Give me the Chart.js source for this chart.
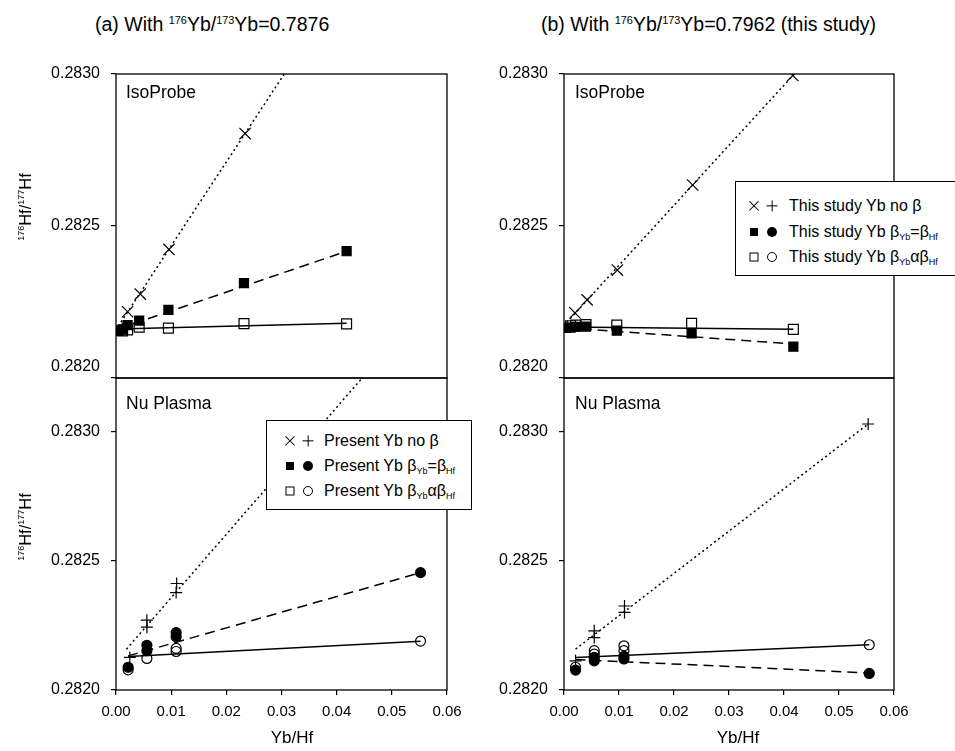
<!DOCTYPE html>
<html><head><meta charset="utf-8">
<script src="https://cdn.jsdelivr.net/npm/chart.js@4"></script>
<style>
html,body{margin:0;padding:0;background:#fff;}
body{width:955px;height:751px;position:relative;overflow:hidden;font-family:"Liberation Sans",Arial,sans-serif;color:#000;}
canvas{position:absolute;}
.t{position:absolute;white-space:nowrap;line-height:1;}
.t sup{font-size:0.56em;position:relative;top:-0.62em;vertical-align:baseline;}
.ytitle{position:absolute;white-space:nowrap;line-height:1;font-size:16.5px;transform:translate(-50%,-50%) rotate(-90deg);}
.ytitle sup{font-size:9px;position:relative;top:-0.75em;vertical-align:baseline;}
.xtitle{position:absolute;white-space:nowrap;line-height:1;font-size:17px;transform:translate(-50%,-50%);}
.lab{position:absolute;white-space:nowrap;line-height:1;font-size:17.5px;transform:translateY(-50%);}
.leg{position:absolute;background:#fff;border:1px solid #000;box-sizing:border-box;}
.sym{position:absolute;transform:translate(-50%,-50%);}
.x,.p{width:14px;height:14px;}
.x::before,.x::after,.p::before,.p::after{content:'';position:absolute;left:50%;top:50%;height:1.3px;background:#000;}
.x::before{width:13px;transform:translate(-50%,-50%) rotate(45deg);}
.x::after{width:13px;transform:translate(-50%,-50%) rotate(-45deg);}
.p::before{width:11px;transform:translate(-50%,-50%);}
.p::after{width:11px;transform:translate(-50%,-50%) rotate(90deg);}
.fs{width:8px;height:8px;background:#000;}
.fc{width:10px;height:10px;background:#000;border-radius:50%;}
.os{width:9px;height:9px;border:1px solid #000;box-sizing:border-box;background:#fff;}
.oc{width:10px;height:10px;border:1px solid #000;box-sizing:border-box;border-radius:50%;}
.lt{position:absolute;white-space:nowrap;font-size:16px;line-height:1;transform:translateY(-50%);}
.lt sub{font-size:9px;position:relative;top:0.35em;vertical-align:baseline;}
</style></head>
<body>
<canvas id="cTL" width="470" height="330" style="left:0;top:60px"></canvas>
<canvas id="cTR" width="470" height="330" style="left:448px;top:60px"></canvas>
<canvas id="cBL" width="470" height="375" style="left:0;top:366px"></canvas>
<canvas id="cBR" width="470" height="375" style="left:448px;top:366px"></canvas>

<div class="t" style="left:95px;top:15px;font-size:19.5px;">(a) With <sup>176</sup>Yb/<sup>173</sup>Yb=0.7876</div>
<div class="t" style="left:541px;top:15px;font-size:19.5px;">(b) With <sup>176</sup>Yb/<sup>173</sup>Yb=0.7962 (this study)</div>

<div class="ytitle" style="left:25px;top:207px;"><sup>176</sup>Hf/<sup>177</sup>Hf</div>
<div class="ytitle" style="left:25px;top:527px;"><sup>176</sup>Hf/<sup>177</sup>Hf</div>

<div class="xtitle" style="left:292px;top:737px;">Yb/Hf</div>
<div class="xtitle" style="left:738px;top:737px;">Yb/Hf</div>

<div class="lab" style="left:126px;top:93px;">IsoProbe</div>
<div class="lab" style="left:575px;top:93px;">IsoProbe</div>
<div class="lab" style="left:126px;top:404px;">Nu Plasma</div>
<div class="lab" style="left:575px;top:404px;">Nu Plasma</div>

<div class="leg" style="left:266px;top:420px;width:206px;height:90px;">
  <div class="sym x" style="left:23px;top:20px;"></div>
  <div class="sym p" style="left:41px;top:20px;"></div>
  <div class="lt" style="left:57px;top:20px;">Present Yb no β</div>
  <div class="sym fs" style="left:23px;top:45px;"></div>
  <div class="sym fc" style="left:41px;top:45px;"></div>
  <div class="lt" style="left:57px;top:45px;">Present Yb β<sub>Yb</sub>=β<sub>Hf</sub></div>
  <div class="sym os" style="left:23px;top:70px;"></div>
  <div class="sym oc" style="left:41px;top:70px;"></div>
  <div class="lt" style="left:57px;top:70px;">Present Yb β<sub>Yb</sub>αβ<sub>Hf</sub></div>
</div>

<div class="leg" style="left:735px;top:181px;width:240px;height:95px;">
  <div class="sym x" style="left:18px;top:24px;"></div>
  <div class="sym p" style="left:36px;top:24px;"></div>
  <div class="lt" style="left:53px;top:24px;">This study Yb no β</div>
  <div class="sym fs" style="left:18px;top:50px;"></div>
  <div class="sym fc" style="left:36px;top:50px;"></div>
  <div class="lt" style="left:53px;top:50px;">This study Yb β<sub>Yb</sub>=β<sub>Hf</sub></div>
  <div class="sym os" style="left:18px;top:75px;"></div>
  <div class="sym oc" style="left:36px;top:75px;"></div>
  <div class="lt" style="left:53px;top:75px;">This study Yb β<sub>Yb</sub>αβ<sub>Hf</sub></div>
</div>

<script>
// ---- tick definitions ----
const X_TICKS = [0, 0.01, 0.02, 0.03, 0.04, 0.05, 0.06];
const X_TICK_LABELS = ['0.00', '0.01', '0.02', '0.03', '0.04', '0.05', '0.06'];
const Y_TICKS = [0.2820, 0.2825, 0.2830];
const Y_TICK_LABELS = ['0.2820', '0.2825', '0.2830'];

// ---- (a) IsoProbe ----
const A_ISO_NOBETA_X = [0.0004, 0.0021, 0.0044, 0.0096, 0.0234];
const A_ISO_NOBETA_Y = [0.282165, 0.282218, 0.282276, 0.282423, 0.282804];
const A_ISO_EQ_X = [0.0003, 0.0012, 0.0021, 0.0042, 0.0095, 0.0232, 0.0418];
const A_ISO_EQ_Y = [0.282155, 0.282160, 0.282174, 0.282189, 0.282224, 0.282312, 0.282417];
const A_ISO_ALPHA_X = [0.0012, 0.0021, 0.0042, 0.0095, 0.0232, 0.0418];
const A_ISO_ALPHA_Y = [0.282155, 0.282158, 0.282167, 0.282164, 0.282179, 0.282178];
const A_ISO_NOBETA_FIT_X = [0.0004, 0.035];
const A_ISO_NOBETA_FIT_Y = [0.282170, 0.283124];
const A_ISO_EQ_FIT_X = [0.0003, 0.0418];
const A_ISO_EQ_FIT_Y = [0.282161, 0.282417];
const A_ISO_ALPHA_FIT_X = [0.0003, 0.0418];
const A_ISO_ALPHA_FIT_Y = [0.282161, 0.282180];

// ---- (a) Nu Plasma ----
const A_NU_NOBETA_X = [0.0025, 0.0056, 0.0056, 0.0110, 0.0109];
const A_NU_NOBETA_Y = [0.282126, 0.282270, 0.282243, 0.282412, 0.282377];
const A_NU_EQ_X = [0.0022, 0.0056, 0.0056, 0.0109, 0.0109, 0.0552];
const A_NU_EQ_Y = [0.282088, 0.282173, 0.282152, 0.282222, 0.282206, 0.282454];
const A_NU_ALPHA_X = [0.0022, 0.0056, 0.0109, 0.0109, 0.0552];
const A_NU_ALPHA_Y = [0.282078, 0.282122, 0.282161, 0.282149, 0.282189];
const A_NU_NOBETA_FIT_X = [0.0019, 0.050];
const A_NU_NOBETA_FIT_Y = [0.282158, 0.283339];
const A_NU_EQ_FIT_X = [0.0022, 0.0552];
const A_NU_EQ_FIT_Y = [0.282132, 0.282454];
const A_NU_ALPHA_FIT_X = [0.0022, 0.0552];
const A_NU_ALPHA_FIT_Y = [0.282130, 0.282189];

// ---- (b) IsoProbe ----
const B_ISO_NOBETA_X = [0.0020, 0.0042, 0.0097, 0.0234, 0.0416];
const B_ISO_NOBETA_Y = [0.282214, 0.282257, 0.282355, 0.282635, 0.282995];
const B_ISO_EQ_X = [0.0003, 0.0012, 0.0021, 0.0040, 0.0096, 0.0232, 0.0417];
const B_ISO_EQ_Y = [0.282165, 0.282166, 0.282168, 0.282169, 0.282156, 0.282147, 0.282103];
const B_ISO_ALPHA_X = [0.0012, 0.0021, 0.0040, 0.0096, 0.0232, 0.0417];
const B_ISO_ALPHA_Y = [0.282172, 0.282174, 0.282176, 0.282174, 0.282180, 0.282160];
const B_ISO_NOBETA_FIT_X = [0.0005, 0.045];
const B_ISO_NOBETA_FIT_Y = [0.282183, 0.283062];
const B_ISO_EQ_FIT_X = [0.0003, 0.0417];
const B_ISO_EQ_FIT_Y = [0.282165, 0.282112];
const B_ISO_ALPHA_FIT_X = [0.0003, 0.0417];
const B_ISO_ALPHA_FIT_Y = [0.282168, 0.282160];

// ---- (b) Nu Plasma ----
const B_NU_NOBETA_X = [0.0021, 0.0055, 0.0055, 0.0110, 0.0110, 0.0553];
const B_NU_NOBETA_Y = [0.282113, 0.282229, 0.282203, 0.282325, 0.282300, 0.283029];
const B_NU_EQ_X = [0.0021, 0.0055, 0.0055, 0.0109, 0.0109, 0.0555];
const B_NU_EQ_Y = [0.282077, 0.282126, 0.282113, 0.282130, 0.282120, 0.282064];
const B_NU_ALPHA_X = [0.0021, 0.0055, 0.0055, 0.0109, 0.0109, 0.0555];
const B_NU_ALPHA_Y = [0.282088, 0.282152, 0.282139, 0.282171, 0.282152, 0.282175];
const B_NU_NOBETA_FIT_X = [0.0021, 0.0553];
const B_NU_NOBETA_FIT_Y = [0.282158, 0.283029];
const B_NU_EQ_FIT_X = [0.0021, 0.0555];
const B_NU_EQ_FIT_Y = [0.282118, 0.282066];
const B_NU_ALPHA_FIT_X = [0.0021, 0.0555];
const B_NU_ALPHA_FIT_Y = [0.282126, 0.282175];

const TOP_Y_MAX = 0.2830;
const BOTTOM_Y_MAX = 0.283207;

// ---- helpers ----
const FONT = '"Liberation Sans", Arial, sans-serif';
const pts = (xs, ys) => xs.map((x, i) => ({ x, y: ys[i] }));
function marker(style, filled, r, xs, ys) {
  return {
    data: pts(xs, ys), showLine: false, pointStyle: style, pointRadius: r,
    pointBorderColor: '#000', pointBackgroundColor: filled ? '#000' : 'rgba(255,255,255,0)',
    pointBorderWidth: 1.2
  };
}
function fit(dash, xs, ys) {
  return {
    data: pts(xs, ys), showLine: true, pointRadius: 0, borderColor: '#000',
    borderWidth: 1.5, borderDash: dash, fill: false
  };
}
const DOTTED = [2, 3], DASHED = [10, 6], SOLID = [];

const framePlugin = {
  id: 'frame',
  afterDatasetsDraw(chart) {
    const { ctx, chartArea: a } = chart;
    ctx.save();
    ctx.strokeStyle = '#000';
    ctx.lineWidth = 1.3;
    ctx.strokeRect(a.left, a.top, a.right - a.left, a.bottom - a.top);
    ctx.restore();
  }
};
const lowLabelPlugin = {
  id: 'lowLabel',
  afterDraw(chart) {
    const y = chart.scales.y, ctx = chart.ctx;
    ctx.save();
    ctx.font = '16px ' + FONT;
    ctx.fillStyle = '#000';
    ctx.textAlign = 'right';
    ctx.textBaseline = 'middle';
    ctx.fillText(Y_TICK_LABELS[0], y.right - 16, y.getPixelForValue(Y_TICKS[0]) - 11);
    ctx.restore();
  }
};

function makeChart(id, isTop, yMax, datasets) {
  const gridOpts = { drawOnChartArea: false, drawTicks: true, tickLength: 5, color: '#000', lineWidth: 1.2 };
  return new Chart(document.getElementById(id), {
    type: 'scatter',
    data: { datasets },
    options: {
      responsive: false, animation: false, devicePixelRatio: 1,
      layout: { padding: { left: 0, right: id.endsWith('R') ? 24 : 23, top: isTop ? 14 : 12, bottom: isTop ? 12 : 16 } },
      plugins: { legend: { display: false }, tooltip: { enabled: false } },
      scales: {
        x: {
          type: 'linear', min: 0, max: 0.06, display: !isTop,
          afterBuildTicks: s => { s.ticks = X_TICKS.map(v => ({ value: v })); },
          afterFit: s => {
            s.paddingLeft = 0; s.paddingRight = 0; s.paddingTop = 0; s.paddingBottom = 0;
            if (!isTop) { s.height = 35; }
          },
          ticks: { callback: (v, i) => X_TICK_LABELS[i], font: { family: FONT, size: 15 }, color: '#000', padding: 8, maxRotation: 0, autoSkip: false },
          grid: gridOpts, border: { display: false }
        },
        y: {
          type: 'linear', min: 0.2820, max: yMax,
          afterBuildTicks: s => { s.ticks = Y_TICKS.map(v => ({ value: v })); },
          afterFit: s => {
            s.width = 116;
            s.paddingLeft = 0; s.paddingRight = 0; s.paddingTop = 0; s.paddingBottom = 0;
          },
          ticks: { callback: (v, i) => (isTop && i === 0) ? '' : Y_TICK_LABELS[i], font: { family: FONT, size: 16 }, color: '#000', padding: 11, autoSkip: false },
          grid: gridOpts, border: { display: false }
        }
      }
    },
    plugins: isTop ? [framePlugin, lowLabelPlugin] : [framePlugin]
  });
}

// squares panels (IsoProbe)
makeChart('cTL', true, TOP_Y_MAX, [
  marker('crossRot', false, 8, A_ISO_NOBETA_X, A_ISO_NOBETA_Y),
  marker('rect', true, 6.4, A_ISO_EQ_X, A_ISO_EQ_Y),
  marker('rect', false, 7, A_ISO_ALPHA_X, A_ISO_ALPHA_Y),
  fit(DOTTED, A_ISO_NOBETA_FIT_X, A_ISO_NOBETA_FIT_Y),
  fit(DASHED, A_ISO_EQ_FIT_X, A_ISO_EQ_FIT_Y),
  fit(SOLID, A_ISO_ALPHA_FIT_X, A_ISO_ALPHA_FIT_Y)
]);
makeChart('cTR', true, TOP_Y_MAX, [
  marker('crossRot', false, 8, B_ISO_NOBETA_X, B_ISO_NOBETA_Y),
  marker('rect', true, 6.4, B_ISO_EQ_X, B_ISO_EQ_Y),
  marker('rect', false, 7, B_ISO_ALPHA_X, B_ISO_ALPHA_Y),
  fit(DOTTED, B_ISO_NOBETA_FIT_X, B_ISO_NOBETA_FIT_Y),
  fit(DASHED, B_ISO_EQ_FIT_X, B_ISO_EQ_FIT_Y),
  fit(SOLID, B_ISO_ALPHA_FIT_X, B_ISO_ALPHA_FIT_Y)
]);
// circle panels (Nu Plasma)
makeChart('cBL', false, BOTTOM_Y_MAX, [
  marker('cross', false, 6, A_NU_NOBETA_X, A_NU_NOBETA_Y),
  marker('circle', true, 5, A_NU_EQ_X, A_NU_EQ_Y),
  marker('circle', false, 5, A_NU_ALPHA_X, A_NU_ALPHA_Y),
  fit(DOTTED, A_NU_NOBETA_FIT_X, A_NU_NOBETA_FIT_Y),
  fit(DASHED, A_NU_EQ_FIT_X, A_NU_EQ_FIT_Y),
  fit(SOLID, A_NU_ALPHA_FIT_X, A_NU_ALPHA_FIT_Y)
]);
makeChart('cBR', false, BOTTOM_Y_MAX, [
  marker('cross', false, 6, B_NU_NOBETA_X, B_NU_NOBETA_Y),
  marker('circle', true, 5, B_NU_EQ_X, B_NU_EQ_Y),
  marker('circle', false, 5, B_NU_ALPHA_X, B_NU_ALPHA_Y),
  fit(DOTTED, B_NU_NOBETA_FIT_X, B_NU_NOBETA_FIT_Y),
  fit(DASHED, B_NU_EQ_FIT_X, B_NU_EQ_FIT_Y),
  fit(SOLID, B_NU_ALPHA_FIT_X, B_NU_ALPHA_FIT_Y)
]);
</script>
</body></html>
